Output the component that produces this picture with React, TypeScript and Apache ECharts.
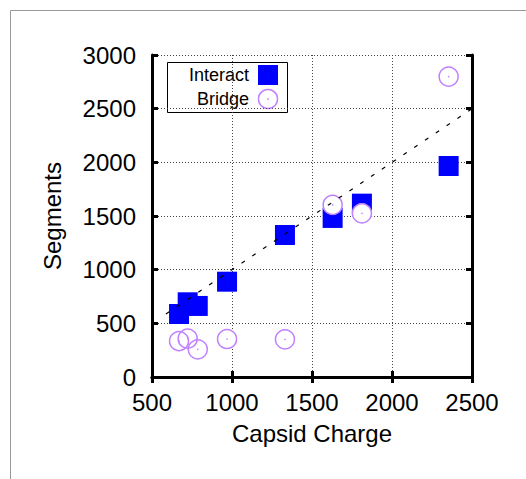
import React, { useEffect, useRef } from "react";
import * as echarts from "echarts";

const capsidCharge = [669, 723, 786, 969, 1331, 1629, 1812, 2354];
const interactSegments = [587, 696, 662, 888, 1323, 1482, 1615, 1966];
const bridgeSegments = [335, 357, 258, 354, 351, 1603, 1525, 2799];
const fitX = [587, 2500];
const fitY = [587, 2500];
const xTicks = { min: 500, max: 2500, interval: 500 };
const yTicks = { min: 0, max: 3000, interval: 500 };
const legendLabels = ["Interact", "Bridge"];

const FONT = "Liberation Sans, Arial, Helvetica, sans-serif";
const BLUE = "#0000ff";
const PURPLE = "#c080ff";

export default function App() {
  const ref = useRef<HTMLDivElement>(null);
  useEffect(() => {
    if (!ref.current) return;
    const chart = echarts.init(ref.current, null, { renderer: "svg" });
    const interact = capsidCharge.map((x, i) => [x, interactSegments[i]]);
    const bridge = capsidCharge.map((x, i) => [x, bridgeSegments[i]]);
    const fit = fitX.map((x, i) => [x, fitY[i]]);
    const fmt = (v: number) => String(v);

    const axisCommon = {
      type: "value",
      axisLine: { show: true, lineStyle: { color: "#000", width: 3 } },
      axisTick: { show: true, inside: true, length: 6, lineStyle: { color: "#000", width: 3 } },
    };

    const option: any = {
      animation: false,
      backgroundColor: "#fff",
      grid: { left: 152, right: 54, top: 55, bottom: 102, containLabel: false },
      xAxis: [
        {
          ...axisCommon,
          position: "bottom",
          ...xTicks,
          name: "Capsid Charge",
          nameLocation: "middle",
          nameGap: 44,
          nameTextStyle: { fontSize: 24, color: "#000", fontFamily: FONT },
          axisLabel: { fontSize: 24, color: "#000", fontFamily: FONT, margin: 13, formatter: fmt },
          splitLine: { show: true, lineStyle: { color: "#444", width: 1, type: [1, 2] } },
        },
        {
          ...axisCommon,
          position: "top",
          ...xTicks,
          axisLabel: { show: false },
          splitLine: { show: false },
        },
      ],
      yAxis: [
        {
          ...axisCommon,
          position: "left",
          ...yTicks,
          name: "Segments",
          nameLocation: "middle",
          nameGap: 88,
          nameTextStyle: { fontSize: 24, color: "#000", fontFamily: FONT },
          axisLabel: { fontSize: 24, color: "#000", fontFamily: FONT, margin: 16, formatter: fmt },
          splitLine: { show: true, lineStyle: { color: "#444", width: 1, type: [1, 2] } },
        },
        {
          ...axisCommon,
          position: "right",
          ...yTicks,
          axisLabel: { show: false },
          splitLine: { show: false },
        },
      ],
      series: [
        {
          name: "Interact",
          type: "scatter",
          data: interact,
          symbol: "rect",
          symbolSize: 20,
          itemStyle: { color: BLUE, opacity: 1 },
          z: 2,
        },
        {
          name: "BridgeFill",
          type: "scatter",
          data: bridge,
          symbol: "circle",
          symbolSize: 20,
          silent: true,
          itemStyle: { color: "#fff", opacity: 1 },
          z: 3,
        },
        {
          name: "Bridge",
          type: "scatter",
          data: bridge,
          symbol: "circle",
          symbolSize: 19,
          itemStyle: { color: "rgba(0,0,0,0)", borderColor: PURPLE, borderWidth: 1.5, opacity: 1 },
          z: 4,
        },
        {
          name: "BridgeDot",
          type: "scatter",
          data: bridge,
          symbol: "circle",
          symbolSize: 1.5,
          silent: true,
          itemStyle: { color: PURPLE, opacity: 1 },
          z: 5,
        },
        {
          name: "Fit",
          type: "line",
          data: fit,
          symbol: "none",
          silent: true,
          lineStyle: { color: "#000", width: 1.2, type: [4, 9] },
          z: 6,
        },
      ],
      graphic: [
        {
          type: "rect",
          shape: { x: 10.5, y: 10.5, width: 560, height: 520 },
          style: { fill: "none", stroke: "#999", lineWidth: 1 },
          silent: true,
          z: 0,
        },
        {
          type: "group",
          z: 100,
          children: [
            {
              type: "rect",
              shape: { x: 167.5, y: 62.5, width: 120, height: 50 },
              style: { fill: "#fff", stroke: "#000", lineWidth: 1 },
            },
            {
              type: "text",
              x: 249,
              y: 75,
              style: { text: legendLabels[0], fill: "#000", font: `18px ${FONT}`, align: "right", verticalAlign: "middle" },
            },
            {
              type: "text",
              x: 249,
              y: 99,
              style: { text: legendLabels[1], fill: "#000", font: `18px ${FONT}`, align: "right", verticalAlign: "middle" },
            },
            {
              type: "rect",
              shape: { x: 258, y: 65, width: 20, height: 20 },
              style: { fill: BLUE },
            },
            {
              type: "circle",
              shape: { cx: 268, cy: 99, r: 9.5 },
              style: { fill: "#fff", stroke: PURPLE, lineWidth: 1.5 },
            },
            {
              type: "circle",
              shape: { cx: 268, cy: 99, r: 0.8 },
              style: { fill: PURPLE },
            },
          ],
        },
      ],
    };
    chart.setOption(option);
    return () => chart.dispose();
  }, []);
  return (
    <div
      ref={ref}
      style={{ position: "fixed", left: 0, top: 0, width: 526, height: 479, background: "#fff" }}
    />
  );
}
